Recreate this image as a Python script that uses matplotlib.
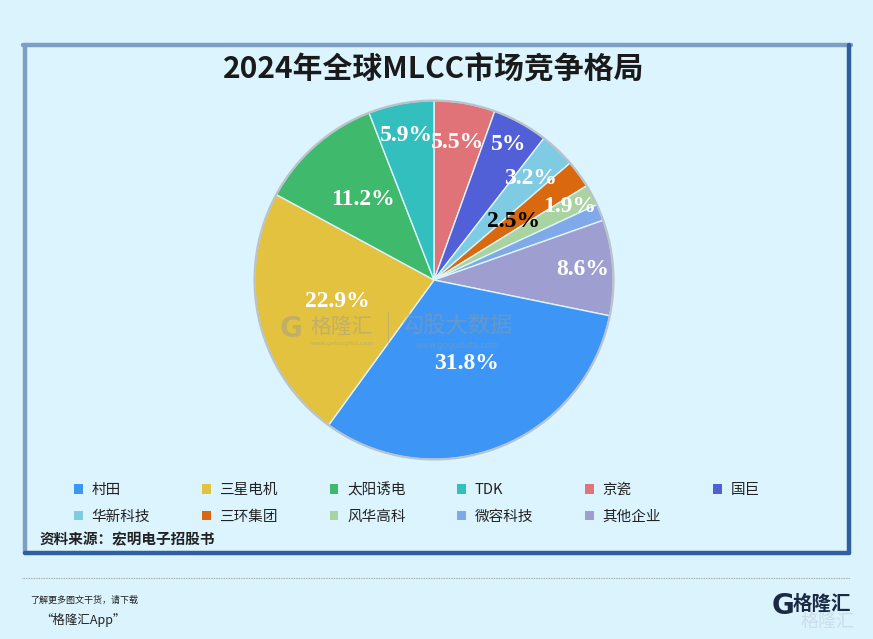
import matplotlib
matplotlib.use("Agg")
import matplotlib.pyplot as plt
from matplotlib.patches import Patch, Rectangle
from matplotlib.lines import Line2D
import numpy as np

plt.rcParams['font.family'] = ['Noto Sans CJK SC', 'DejaVu Sans']

# ---- data ----
companies = ['村田', '三星电机', '太阳诱电', 'TDK', '京瓷', '国巨',
             '华新科技', '三环集团', '风华高科', '微容科技', '其他企业']
shares = [31.8, 22.9, 11.2, 5.9, 5.5, 5.0, 3.2, 2.5, 1.9, 1.5, 8.6]
pct_labels = ['31.8%', '22.9%', '11.2%', '5.9%', '5.5%', '5%',
              '3.2%', '2.5%', '1.9%', '', '8.6%']
colors = ['#3d96f5', '#e2c23e', '#3fb96b', '#33bfbd', '#e07377', '#5160d6',
          '#7fcbe4', '#d9680f', '#a9d4a2', '#7fa9e9', '#9e9fd0']
# pie order (clockwise from 12 o'clock)
pie_order = [4, 5, 6, 7, 8, 9, 10, 0, 1, 2, 3]
label_radius = {0: 0.50, 1: 0.55, 2: 0.60, 3: 0.82, 4: 0.78, 5: 0.86,
                6: 0.78, 7: 0.55, 8: 0.86, 9: 0.8, 10: 0.83}
label_color = {7: 'black'}

W, H = 873, 639
fig = plt.figure(figsize=(W / 100, H / 100), dpi=100)
bg = '#daf3fd'
fig.patch.set_facecolor(bg)

def fx(px):
    return px / W

def fy(py):
    return 1 - py / H

# frame
fig.add_artist(Rectangle((fx(23), fy(554)), fx(851) - fx(23), fy(44) - fy(554),
                         transform=fig.transFigure, facecolor='#dcf4fe',
                         edgecolor='none', zorder=0))
light = '#7d9fc5'
dark = '#2f5f9e'
lw = 3.2
fig.add_artist(Line2D([fx(23), fx(851)], [fy(45), fy(45)], color=light, lw=lw,
                      transform=fig.transFigure, solid_capstyle='round'))
fig.add_artist(Line2D([fx(25), fx(25)], [fy(45), fy(553)], color=light, lw=lw,
                      transform=fig.transFigure, solid_capstyle='round'))
fig.add_artist(Line2D([fx(849), fx(849)], [fy(45), fy(553)], color=dark, lw=lw,
                      transform=fig.transFigure, solid_capstyle='round'))
fig.add_artist(Line2D([fx(25), fx(849)], [fy(553), fy(553)], color=dark, lw=lw,
                      transform=fig.transFigure, solid_capstyle='round'))

# title
fig.text(fx(434), fy(70), '2024年全球MLCC市场竞争格局', ha='center', va='center',
         fontsize=21.5, fontweight='bold', color='#1a1a1a')

# pie
cx, cy, R = 434, 280, 183
ax = fig.add_axes([fx(cx - R), fy(cy + R), (2 * R) / W, (2 * R) / H])
ax.set_facecolor('none')
vals = [shares[i] for i in pie_order]
cols = [colors[i] for i in pie_order]
wedges, _ = ax.pie(vals, colors=cols, startangle=90, counterclock=False,
                   radius=1.0,
                   wedgeprops=dict(edgecolor='#dff4fb', linewidth=1.0))
ax.add_patch(plt.Circle((0, 0), 1.0, fill=False, edgecolor='#b9c3cc',
                        linewidth=1.6, zorder=5))
ax.set_xlim(-1.02, 1.02)
ax.set_ylim(-1.02, 1.02)
ax.axis('off')

for w, idx in zip(wedges, pie_order):
    if not pct_labels[idx]:
        continue
    ang = np.deg2rad((w.theta1 + w.theta2) / 2)
    r = label_radius[idx]
    ax.text(r * np.cos(ang), r * np.sin(ang), pct_labels[idx],
            ha='center', va='center', fontsize=17, fontweight='bold',
            family='Liberation Serif', color=label_color.get(idx, 'white'),
            zorder=6)

# watermark
wm = '#9a9a9a'
fig.text(fx(291), fy(329), 'G', fontsize=20, fontweight='bold', color=wm,
         alpha=0.45, ha='center', va='center', family='DejaVu Sans')
fig.text(fx(342), fy(327), '格隆汇', fontsize=15, color=wm, alpha=0.45,
         ha='center', va='center')
fig.text(fx(342), fy(344), 'www.gelonghui.com', fontsize=4.5, color=wm,
         alpha=0.45, ha='center', va='center', family='DejaVu Sans')
fig.add_artist(Line2D([fx(388), fx(388)], [fy(312), fy(346)], color=wm,
                      alpha=0.4, lw=0.8, transform=fig.transFigure))
fig.text(fx(457), fy(326), '勾股大数据', fontsize=16, color=wm, alpha=0.45,
         ha='center', va='center')
fig.text(fx(457), fy(346), 'www.goguduta.com', fontsize=6, color=wm,
         alpha=0.45, ha='center', va='center', family='DejaVu Sans')

# legend (row-major ordering across 6 columns)
handles = [Patch(facecolor=c, edgecolor='none', label=n)
           for n, c in zip(companies, colors)]
order = [0, 6, 1, 7, 2, 8, 3, 9, 4, 10, 5]
leg = fig.legend(handles=[handles[i] for i in order], ncol=6, loc='upper left',
                 bbox_to_anchor=(fx(74), fy(483)), frameon=False,
                 fontsize=10.5, handlelength=0.6, handleheight=0.6,
                 handletextpad=0.6, columnspacing=3.55, labelspacing=0.85,
                 borderaxespad=0, borderpad=0)
for t in leg.get_texts():
    t.set_color('#222222')

fig.text(fx(40), fy(539), '资料来源：宏明电子招股书', fontsize=10.5,
         fontweight='bold', color='#222222', ha='left', va='center')

# footer
fig.add_artist(Line2D([fx(22), fx(850)], [fy(578), fy(578)], color='#888888',
                      lw=0.6, ls=(0, (1, 1)), transform=fig.transFigure))
fig.text(fx(30), fy(600), '了解更多图文干货，请下载', fontsize=6.5, style='italic',
         color='#222222', ha='left', va='center')
fig.text(fx(40), fy(620), '“格隆汇App”', fontsize=9, style='italic',
         color='#222222', ha='left', va='center')
fig.text(fx(783), fy(606), 'G', fontsize=20, fontweight='bold', color='#1b2a44',
         ha='center', va='center', family='DejaVu Sans')
fig.text(fx(822), fy(604), '格隆汇', fontsize=14, fontweight='bold',
         color='#1b2a44', ha='center', va='center')
fig.text(fx(828), fy(622), '格隆汇', fontsize=13, color='#c8d8e4',
         ha='center', va='center', alpha=0.8)

fig.savefig('out.png', dpi=100, facecolor=bg)
